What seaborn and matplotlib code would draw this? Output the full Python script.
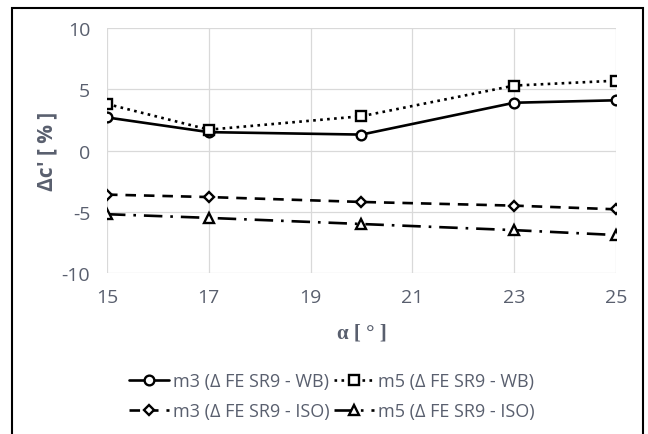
import matplotlib
matplotlib.use("Agg")
import matplotlib.pyplot as plt
from matplotlib.patches import Rectangle
import seaborn as sns
import pandas as pd

# Angle of attack values and relative change of the coefficient
alpha = [15, 17, 20, 23, 25]
m3_wb = [2.7, 1.5, 1.3, 3.9, 4.1]
m5_wb = [3.8, 1.7, 2.8, 5.3, 5.7]
m3_iso = [-3.6, -3.8, -4.2, -4.5, -4.8]
m5_iso = [-5.2, -5.5, -6.0, -6.5, -6.9]

labels = [
    "m3 (Δ FE SR9 - WB)",
    "m5 (Δ FE SR9 - WB)",
    "m3 (Δ FE SR9 - ISO)",
    "m5 (Δ FE SR9 - ISO)",
]
x_ticks = [15, 17, 19, 21, 23, 25]
y_ticks = [-10, -5, 0, 5, 10]

sns.set_theme(style="white")
plt.rcParams["font.family"] = ["Open Sans", "DejaVu Sans"]
plt.rcParams["axes.unicode_minus"] = False

text_color = "#595f6e"
grid_color = "#d9d9d9"

fig = plt.figure(figsize=(6.48, 4.35), dpi=100)
ax = fig.add_axes([0.1651, 0.3701, 0.7855, 0.5632])

styles = {
    labels[0]: dict(linestyle="-", marker="o", markersize=7),
    labels[1]: dict(linestyle=":", marker="s", markersize=7),
    labels[2]: dict(linestyle=(0, (4, 3)), marker="D", markersize=5),
    labels[3]: dict(linestyle=(0, (7, 3, 1, 3)), marker="^", markersize=7.5),
}
series = [m3_wb, m5_wb, m3_iso, m5_iso]

for lab, vals in zip(labels, series):
    df = pd.DataFrame({"alpha": alpha, "dc": vals})
    sns.lineplot(
        data=df, x="alpha", y="dc", ax=ax, label=lab,
        color="black", linewidth=1.9,
        markerfacecolor="white", markeredgecolor="black",
        markeredgewidth=1.7, **styles[lab],
    )

ax.set_xlim(15, 25)
ax.set_ylim(-10, 10)
ax.set_xticks(x_ticks)
ax.set_yticks(y_ticks)
ax.grid(True, color=grid_color, linewidth=0.9)
for s in ax.spines.values():
    s.set_visible(False)
ax.tick_params(axis="both", length=0, labelsize=14, colors=text_color)
ax.tick_params(axis="x", pad=11)
ax.tick_params(axis="y", pad=12)

ax.set_xlabel("α [ ° ]", fontsize=15, fontweight="bold", color=text_color,
              family=["Liberation Serif"])
ax.xaxis.set_label_coords(0.5, -0.2)
ax.set_ylabel("Δc' [ % ]", fontsize=15, fontweight="bold", color=text_color)
ax.yaxis.set_label_coords(-0.098, 0.5)

handles, labs = ax.get_legend_handles_labels()
ax.get_legend().remove()
order = [0, 2, 1, 3]
leg = fig.legend(
    [handles[i] for i in order], [labs[i] for i in order],
    loc="center", bbox_to_anchor=(0.512, 0.087), ncol=2, frameon=False,
    fontsize=13, handlelength=2.2, handletextpad=0.2, columnspacing=0.27,
    labelspacing=0.7, labelcolor=text_color,
)

fig.patches.append(Rectangle((12 / 648, -0.02), 631 / 648, 1 - 9 / 435 + 0.02,
                             transform=fig.transFigure, fill=False,
                             edgecolor="black", linewidth=1.5))

fig.savefig("out.png", dpi=100, facecolor="white")
